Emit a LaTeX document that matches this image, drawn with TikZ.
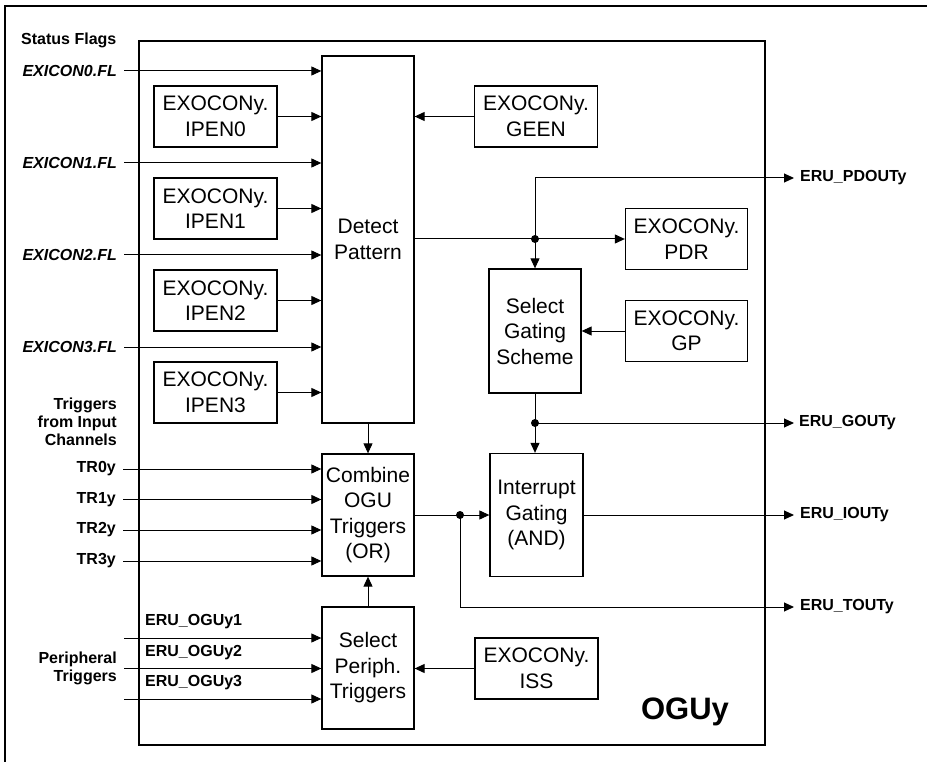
\documentclass[tikz,border=0pt]{standalone}
\usepackage{fontspec}
\setmainfont{Liberation Sans}
\usetikzlibrary{arrows.meta}
\begin{document}
\begin{tikzpicture}[x=1pt,y=-1pt,
  box/.style={draw, line width=1.3pt, inner sep=0pt, align=center, font=\fontsize{21}{25.5}\selectfont},
  ebox/.style={box, minimum width=123, minimum height=61},
  conn/.style={line width=1pt, -{Triangle[length=10pt,width=9pt]}},
  plain/.style={line width=1pt},
  lbl/.style={font=\fontsize{16}{18}\selectfont\bfseries, inner sep=0pt, align=right},
  ilbl/.style={font=\fontsize{16}{18}\selectfont\bfseries\itshape, inner sep=0pt},
  jdot/.style={circle, fill, inner sep=0pt, minimum size=8pt}]
\useasboundingbox (0,0) rectangle (927,762);
\draw[line width=1.3pt] (5,762) -- (5,6) -- (927,6);
% OGUy frame
\node[draw, line width=1.3pt, minimum width=626, minimum height=704, inner sep=0pt] (ogu) at (452,393) {};
\node[font=\fontsize{31}{35}\selectfont\bfseries, inner sep=0pt] (ogutxt) at (685,712) {OGUy};
% boxes
\node[box, minimum width=92, minimum height=367] (detect) at (368,239.5) {Detect\\Pattern};
\node[ebox] (ipen0) at (215.5,116.5) {EXOCONy.\\IPEN0};
\node[ebox] (ipen1) at (215.5,208.5) {EXOCONy.\\IPEN1};
\node[ebox] (ipen2) at (215.5,300.5) {EXOCONy.\\IPEN2};
\node[ebox] (ipen3) at (215.5,392.5) {EXOCONy.\\IPEN3};
\node[ebox] (geen) at (536,116.5) {EXOCONy.\\GEEN};
\node[ebox, minimum width=122] (pdr) at (686.5,239) {EXOCONy.\\PDR};
\node[box, minimum width=92, minimum height=124] (gating) at (535,331) {Select\\Gating\\Scheme};
\node[ebox, minimum width=122] (gp) at (686.5,331) {EXOCONy.\\GP};
\node[box, minimum width=93, minimum height=123] (intr) at (536.5,515) {Interrupt\\Gating\\(AND)};
\node[box, minimum width=92, minimum height=122] (combine) at (368,515) {Combine\\OGU\\Triggers\\(OR)};
\node[box, minimum width=92, minimum height=122] (periph) at (368,668) {Select\\Periph.\\Triggers};
\node[ebox] (iss) at (536.5,668.5) {EXOCONy.\\ISS};
% left labels
\node[lbl, anchor=west] (stat) at (21,40) {Status Flags};
\node[ilbl, anchor=east] (fl0) at (117,71) {EXICON0.FL};
\node[ilbl, anchor=east] (fl1) at (117,163) {EXICON1.FL};
\node[ilbl, anchor=east] (fl2) at (117,255) {EXICON2.FL};
\node[ilbl, anchor=east] (fl3) at (117,347) {EXICON3.FL};
\node[lbl, anchor=east] (trig) at (117,422) {Triggers\\from Input\\Channels};
\node[lbl, anchor=east] (tr0) at (116,469) {TR0y};
\node[lbl, anchor=east] (tr1) at (116,499.5) {TR1y};
\node[lbl, anchor=east] (tr2) at (116,530) {TR2y};
\node[lbl, anchor=east] (tr3) at (116,561) {TR3y};
\node[lbl, anchor=east] (pert) at (117,668) {Peripheral\\Triggers};
\node[lbl, anchor=west] (ogl1) at (145,622) {ERU\_OGUy1};
\node[lbl, anchor=west] (ogl2) at (145,652.5) {ERU\_OGUy2};
\node[lbl, anchor=west] (ogl3) at (145,683) {ERU\_OGUy3};
% right labels
\node[lbl, anchor=west] (pdout) at (800,178) {ERU\_PDOUTy};
\node[lbl, anchor=west] (gout) at (799,423) {ERU\_GOUTy};
\node[lbl, anchor=west] (iout) at (800,515) {ERU\_IOUTy};
\node[lbl, anchor=west] (tout) at (800,607) {ERU\_TOUTy};
% coordinates
\coordinate (og1) at (124,638);
\coordinate (og2) at (124,668.5);
\coordinate (og3) at (124,699);
\coordinate (pdc) at (535,178);
\coordinate (j1) at (535,239);
\coordinate (j2) at (535,423);
\coordinate (j3) at (460,515);
% flag inputs
\foreach \n in {fl0,fl1,fl2,fl3,tr0,tr1,tr2,tr3}
  \draw[conn, shorten <=7pt] (\n.east) -- (\n.east -| detect.west);
\foreach \n in {ipen0,ipen1,ipen2,ipen3}
  \draw[conn] (\n.east) -- (\n.east -| detect.west);
\draw[conn] (geen.west) -- (geen.west -| detect.east);
% detect output
\draw[conn] (detect.east |- j1) -- (pdr.west |- j1);
\draw[conn] (pdc) -- (gating.north);
\draw[conn, shorten >=6pt] (pdc) -- (pdout.west);
\node[jdot] (d1) at (j1) {};
\draw[conn] (gp.west) -- (gp.west -| gating.east);
% gating output
\draw[plain] (gating.south) -- (j2);
\draw[conn] (j2) -- (intr.north -| j2);
\draw[conn, shorten >=5pt] (j2) -- (gout.west);
\node[jdot] (d2) at (j2) {};
% detect to combine
\draw[conn] (detect.south) -- (combine.north);
% combine output
\draw[conn] (combine.east) -- (intr.west);
\draw[conn, shorten >=6pt] (j3) |- (tout.west);
\node[jdot] (d3) at (j3) {};
\draw[conn, shorten >=6pt] (intr.east) -- (iout.west);
% periph
\draw[conn] (periph.north) -- (combine.south);
\foreach \n in {og1,og2,og3}
  \draw[conn] (\n) -- (\n -| periph.west);
\draw[conn] (iss.west) -- (iss.west -| periph.east);
\end{tikzpicture}
\end{document}
